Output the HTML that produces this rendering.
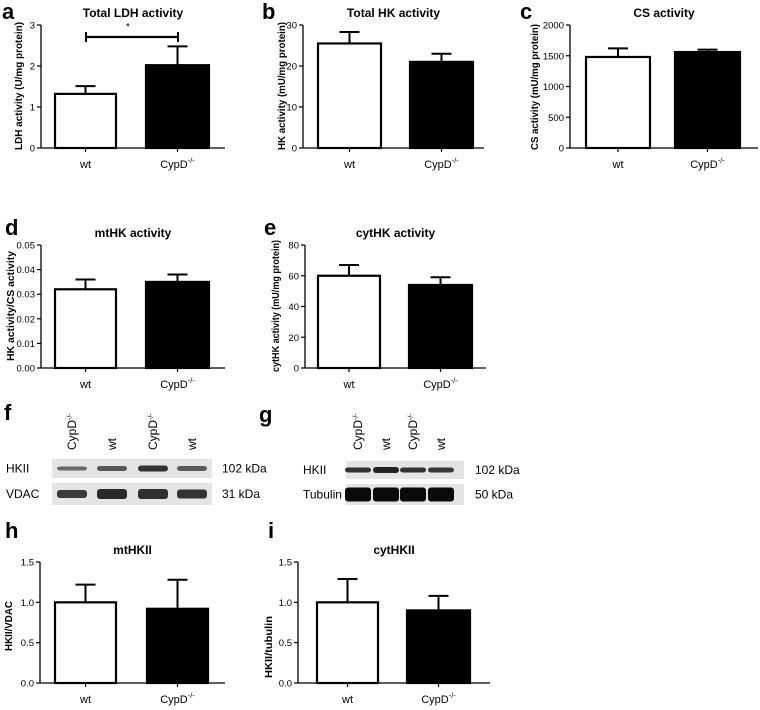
<!DOCTYPE html>
<html><head><meta charset="utf-8"><style>
body{margin:0;background:#fff}
svg{display:block;font-family:"Liberation Sans",Arial,sans-serif}
</style></head><body>
<svg id="fig" width="760" height="710" viewBox="0 0 760 710"></svg>
<script>
const categories=["wt","CypD"];
const aValues=[1.32,2.02], aErr=[0.19,0.46], aTicks=["0","1","2","3"];
const bValues=[25.5,21.0], bErr=[2.8,2.0], bTicks=["0","10","20","30"];
const cValues=[1480,1560], cErr=[140,40], cTicks=["0","500","1000","1500","2000"];
const dValues=[0.032,0.035], dErr=[0.004,0.003], dTicks=["0.00","0.01","0.02","0.03","0.04","0.05"];
const eValues=[60,54], eErr=[7,5], eTicks=["0","20","40","60","80"];
const hValues=[1.0,0.92], hErr=[0.22,0.36], hTicks=["0.0","0.5","1.0","1.5"];
const iValues=[1.0,0.9], iErr=[0.29,0.18], iTicks=["0.0","0.5","1.0","1.5"];

const NS="http://www.w3.org/2000/svg";
const svg=document.getElementById('fig');
function el(tag,attrs,parent,text){const e=document.createElementNS(NS,tag);for(const k in attrs)e.setAttribute(k,attrs[k]);if(text!==undefined)e.textContent=text;(parent||svg).appendChild(e);return e;}

function chart(o){
  const g=el('g',{});
  
  
  const ticks=o.ticks.map(Number);const max=ticks[ticks.length-1];
  const y=v=>o.bottom-(v/max)*(o.bottom-o.top);
  const L=el('text',{x:o.lx,y:o.ly,'font-size':22,'font-weight':'bold'},g,o.letter);
  
  const T=el('text',{x:(o.ax+o.xend)/2,y:o.top-8,'font-size':12,'font-weight':'bold','text-anchor':'middle'},g,o.title);
  
  const ya=el('line',{x1:o.ax,y1:o.top,x2:o.ax,y2:o.bottom,stroke:'#000','stroke-width':1.3},g);
  
  const xa=el('line',{x1:o.ax,y1:o.bottom,x2:o.xend,y2:o.bottom,stroke:'#000','stroke-width':1.3},g);
  
  o.ticks.forEach((t,i)=>{
    const yy=y(ticks[i]);
    el('line',{x1:o.ax-4,y1:yy,x2:o.ax,y2:yy,stroke:'#000','stroke-width':1.2},g);
    const tl=el('text',{x:o.ax-6,y:yy+3.5,'font-size':9.5,'text-anchor':'end'},g,t);
    
  });
  const ty=o.ytx!==undefined?o.ytx:o.ax-19;
  const ya2={transform:`translate(${ty},${o.ytc!==undefined?o.ytc:(o.top+o.bottom)/2}) rotate(-90)`,'font-size':10.5,'font-weight':'bold','text-anchor':'middle'};
  if(o.ytl){ya2.textLength=o.ytl;ya2.lengthAdjust='spacingAndGlyphs';}
  const yt=el('text',ya2,g,o.ytitle);
  
  o.values.forEach((v,i)=>{
    const x0=o.bars[i][0],x1=o.bars[i][1],cx=(x0+x1)/2;
    const top=y(v),et=y(v+o.err[i]);
    const e1=el('line',{x1:cx,y1:top,x2:cx,y2:et,stroke:'#000','stroke-width':2},g);
    
    el('line',{x1:cx-10,y1:et,x2:cx+10,y2:et,stroke:'#000','stroke-width':2},g);
    const r=el('rect',{x:x0,y:top,width:x1-x0,height:o.bottom-top,fill:i?'#000':'#fff',stroke:'#000','stroke-width':2.2},g);
    
    el('line',{x1:cx,y1:o.bottom,x2:cx,y2:o.bottom+4,stroke:'#000','stroke-width':1.2},g);
    const xl=el('text',{x:cx,y:o.bottom+20,'font-size':11,'text-anchor':'middle'},g);
    
    xl.textContent=categories[i];
    if(i===1){el('tspan',{dy:-5,'font-size':7.5},xl,'-/-');}
  });
  return {g,y};
}

const a=chart({name:'chart-total-ldh',letter:'a',lx:2,ly:19,title:'Total LDH activity',ytitle:'LDH activity (U/mg protein)',ax:41,xend:225,top:25,bottom:148,bars:[[55,116],[146,209]],values:aValues,err:aErr,ticks:aTicks,ytx:22,ytl:128,ytc:86});
const sy=37;
el('line',{x1:86,y1:sy,x2:178,y2:sy,stroke:'#000','stroke-width':2.2},a.g);
el('line',{x1:86,y1:sy-5,x2:86,y2:sy+5,stroke:'#000','stroke-width':2},a.g);
el('line',{x1:178,y1:sy-5,x2:178,y2:sy+5,stroke:'#000','stroke-width':2},a.g);
const st=el('text',{x:128,y:30,'font-size':10,'text-anchor':'middle'},a.g,'*');


chart({name:'chart-total-hk',letter:'b',lx:262,ly:19,title:'Total HK activity',ytitle:'HK activity (mU/mg protein)',ax:303,xend:484,top:25,bottom:148,bars:[[318,381],[410,473]],values:bValues,err:bErr,ticks:bTicks,ytx:285,ytl:128,ytc:86});
chart({name:'chart-cs',letter:'c',lx:520,ly:19,title:'CS activity',ytitle:'CS activity (mU/mg protein)',ax:570,xend:758,top:25,bottom:148,bars:[[586,650],[675,740]],values:cValues,err:cErr,ticks:cTicks,ytx:538,ytl:126,ytc:87});
chart({name:'chart-mthk',letter:'d',lx:5,ly:235,title:'mtHK activity',ytitle:'HK activity/CS activity',ax:41,xend:225,top:245,bottom:368,bars:[[55,116],[146,209]],values:dValues,err:dErr,ticks:dTicks,ytx:14,ytl:110,ytc:306});
chart({name:'chart-cythk',letter:'e',lx:264,ly:235,title:'cytHK activity',ytitle:'cytHK activity (mU/mg protein)',ax:305,xend:486,top:245,bottom:368,bars:[[318,380],[409,472]],values:eValues,err:eErr,ticks:eTicks,ytx:279,ytl:132,ytc:306});
chart({name:'chart-mthkii',letter:'h',lx:5,ly:538,title:'mtHKII',ytitle:'HKII/VDAC',ax:40,xend:225,top:562,bottom:683,bars:[[55,116],[147,208]],values:hValues,err:hErr,ticks:hTicks,ytx:12,ytl:50,ytc:626});
chart({name:'chart-cythkii',letter:'i',lx:268,ly:538,title:'cytHKII',ytitle:'HKII/tubulin',ax:298,xend:490,top:562,bottom:683,bars:[[317,378],[407,470]],values:iValues,err:iErr,ticks:iTicks,ytx:272,ytl:62,ytc:647});

function blot(o){
  const g=el('g',{});
  
  
  const L=el('text',{x:o.lx,y:o.ly,'font-size':22,'font-weight':'bold'},g,o.letter);
  
  o.lanes.forEach((lx,i)=>{
    const t=el('text',{transform:`translate(${lx+4},450) rotate(-90)`,'font-size':12},g,o.labels[i]);
    
    if(o.labels[i]==='CypD')el('tspan',{dy:-4,'font-size':7},t,'-/-');
  });
  o.rows.forEach((r,ri)=>{
    const bx=el('rect',{x:o.x0,y:r.y,width:o.x1-o.x0,height:r.h,fill:'#e4e4e4'},g);
    
    o.lanes.forEach((lx,i)=>{
      const b=el('rect',{x:lx-o.bw/2,y:r.y+r.h/2-r.bh[i]/2,width:o.bw,height:r.bh[i],rx:3,fill:r.col[i]},g);
      
    });
    const n=el('text',{x:o.nx,y:r.y+r.h/2+4,'font-size':12},g,r.name);
    
    const k=el('text',{x:o.kx,y:r.y+r.h/2+4,'font-size':12},g,r.kda);
    
  });
}
blot({name:'blot-f',letter:'f',lx:4,ly:420,x0:52,x1:212,bw:30,lanes:[72,112,153,192],labels:['CypD','wt','CypD','wt'],nx:6,kx:222,
 rows:[{y:459,h:19,name:'HKII',kda:'102 kDa',bh:[4,5,6,5],col:['#6a6a6a','#555','#333','#5a5a5a']},
       {y:483,h:22,name:'VDAC',kda:'31 kDa',bh:[8,10,10,9],col:['#3a3a3a','#2a2a2a','#2f2f2f','#333']}]});
blot({name:'blot-g',letter:'g',lx:259,ly:422,x0:346,x1:464,bw:26,lanes:[358,386,413,441],labels:['CypD','wt','CypD','wt'],nx:303,kx:475,
 rows:[{y:461,h:18,name:'HKII',kda:'102 kDa',bh:[5,6,5,5],col:['#333','#222','#333','#3a3a3a']},
       {y:484,h:21,name:'Tubulin',kda:'50 kDa',bh:[14,14,14,14],col:['#0a0a0a','#0a0a0a','#0a0a0a','#0a0a0a']}]});
</script>
</body></html>
